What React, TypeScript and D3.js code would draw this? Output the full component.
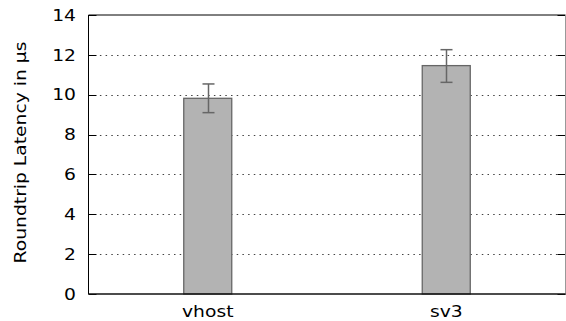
import React from "react";
import * as d3 from "d3";

const categories = ["vhost", "sv3"];
const means = [9.82, 11.46];
const errLow = [9.1, 10.62];
const errHigh = [10.54, 12.26];
const yTicks = [0, 2, 4, 6, 8, 10, 12, 14];
const yLabel = "Roundtrip Latency in µs";

const W = 566;
const H = 321;
const M = { left: 88.5, right: 565.5, top: 15, bottom: 294 };
const FONT = "DejaVu Sans";
const FS = 16;
const SX = 1.17;

export default function App() {
  const y = d3.scaleLinear().domain([0, 14]).range([M.bottom, M.top]);
  const x = d3
    .scalePoint<string>()
    .domain(categories)
    .range([M.left, M.right])
    .padding(0.5);
  const barW = 48;
  const capW = 12;
  return (
    <svg
      width={W}
      height={H}
      style={{ position: "absolute", left: 0, top: 0, background: "#fff" }}
      fontFamily={FONT}
    >
      {/* grid lines */}
      {yTicks.slice(1, -1).map((t) => (
        <line
          key={"g" + t}
          x1={M.left}
          x2={M.right}
          y1={Math.round(y(t)) + 0.5}
          y2={Math.round(y(t)) + 0.5}
          stroke="#444"
          strokeWidth={1}
          strokeDasharray="1.5,4.2"
        />
      ))}
      {/* ticks left and right */}
      {yTicks.map((t) => (
        <g key={"t" + t}>
          <line
            x1={M.left}
            x2={M.left + 8}
            y1={Math.round(y(t)) + 0.5}
            y2={Math.round(y(t)) + 0.5}
            stroke="#000"
          />
          <line
            x1={M.right - 8}
            x2={M.right}
            y1={Math.round(y(t)) + 0.5}
            y2={Math.round(y(t)) + 0.5}
            stroke="#000"
          />
          <text
            transform={`translate(76,${y(t)}) scale(${SX},1)`}
            dy="0.36em"
            textAnchor="end"
            fontSize={FS}
            fill="#000"
          >
            {t}
          </text>
        </g>
      ))}
      {/* bars */}
      {categories.map((c, i) => (
        <rect
          key={"b" + c}
          x={(x(c) as number) - barW / 2}
          y={y(means[i])}
          width={barW}
          height={y(0) - y(means[i])}
          fill="#b3b3b3"
          stroke="#666"
          strokeWidth={1.3}
        />
      ))}
      {/* error bars */}
      {categories.map((c, i) => {
        const cx = Math.round(x(c) as number) + 0.5;
        return (
          <g key={"e" + c} stroke="#666" strokeWidth={1.5}>
            <line x1={cx} x2={cx} y1={y(errHigh[i])} y2={y(errLow[i])} />
            <line x1={cx - capW / 2} x2={cx + capW / 2} y1={y(errHigh[i])} y2={y(errHigh[i])} />
            <line x1={cx - capW / 2} x2={cx + capW / 2} y1={y(errLow[i])} y2={y(errLow[i])} />
          </g>
        );
      })}
      {/* frame */}
      <line x1={M.left} x2={M.left} y1={M.top} y2={M.bottom} stroke="#000" strokeWidth={1} />
      <line x1={M.left} x2={M.right} y1={M.top} y2={M.top} stroke="#000" strokeWidth={1} />
      <line x1={M.right} x2={M.right} y1={M.top} y2={M.bottom} stroke="#999" strokeWidth={1} />
      <line x1={M.left} x2={M.right} y1={M.bottom} y2={M.bottom} stroke="#111" strokeWidth={1.5} />
      {/* x labels */}
      {categories.map((c) => (
        <text
          key={"x" + c}
          transform={`translate(${x(c) as number},317) scale(${SX},1)`}
          textAnchor="middle"
          fontSize={FS}
          fill="#000"
        >
          {c}
        </text>
      ))}
      {/* y label */}
      <text
        transform={`translate(26,${(42 + 263) / 2}) rotate(-90) scale(${SX},1)`}
        textAnchor="middle"
        fontSize={FS}
        fill="#000"
      >
        {yLabel}
      </text>
    </svg>
  );
}
